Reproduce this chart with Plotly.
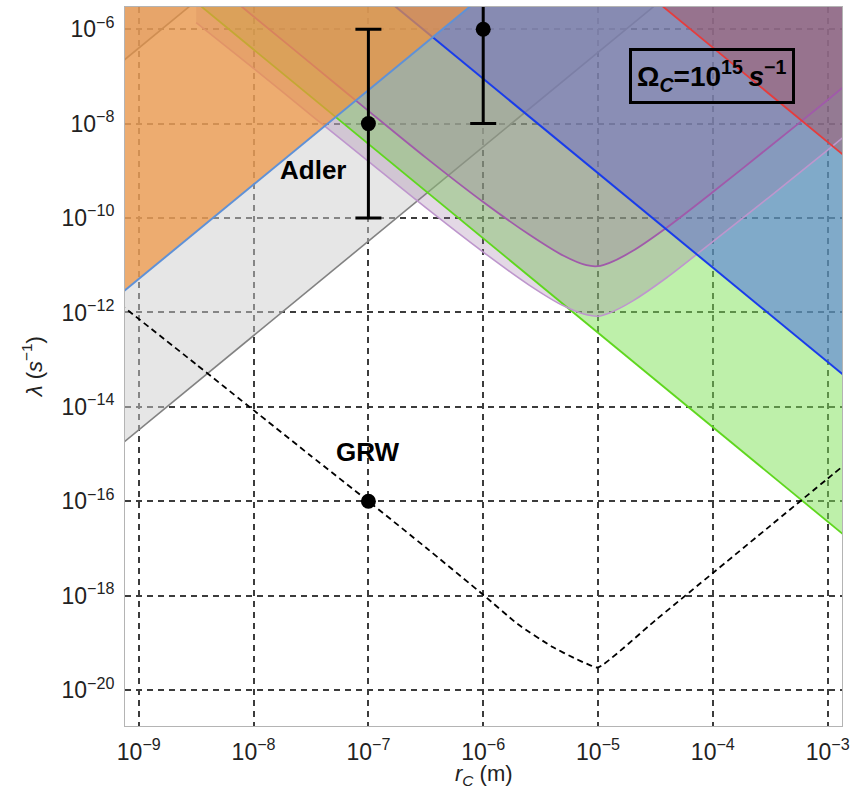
import numpy as np
import plotly.graph_objects as go

# ---- bounds in the (r_C, lambda) plane, stored as log10 values ----
# straight bounds: two end points each
gray_lo_logrc = [-9.5, -4.0]
gray_lo_loglam = [-15.49, -4.49]
gray_hi_logrc = [-9.5, -8.0]
gray_hi_loglam = [-7.40, -4.40]
orange_logrc = [-9.5, -5.5]
orange_loglam = [-12.29, -4.29]
green_logrc = [-9.0, -2.5]
green_loglam = [-4.43, -17.43]
blue_logrc = [-7.5, -2.5]
blue_loglam = [-4.05, -14.05]
red_logrc = [-5.0, -2.5]
red_loglam = [-4.39, -9.39]

# curved bounds
purple_hi_logrc = [-8.4, -8.0, -7.5, -7.0, -6.5, -6.0, -5.6, -5.3, -5.1, -5.0,
                   -4.9, -4.7, -4.4, -4.0, -3.5, -3.0, -2.5]
purple_hi_loglam = [-4.93, -5.73, -6.73, -7.73, -8.72, -9.66, -10.35, -10.80, -11.00, -11.02,
                    -10.95, -10.70, -10.20, -9.45, -8.48, -7.50, -6.50]
purple_lo_logrc = [-8.5, -8.0, -7.5, -7.0, -6.5, -6.0, -5.6, -5.3, -5.1, -5.0,
                   -4.9, -4.7, -4.4, -4.0, -3.5, -3.0, -2.5]
purple_lo_loglam = [-5.86, -6.83, -7.82, -8.80, -9.78, -10.72, -11.42, -11.86, -12.05, -12.08,
                    -12.01, -11.76, -11.26, -10.50, -9.54, -8.56, -7.56]

# GRW lower bound (dashed)
grw_logrc = [-9.3, -8.5, -8.0, -7.5, -7.0, -6.5, -6.0, -5.7, -5.4, -5.2, -5.1, -5.0,
             -4.5, -4.0, -3.5, -3.0, -2.7]
grw_loglam = [-11.56, -13.10, -14.07, -15.04, -16.00, -16.98, -17.98, -18.60, -19.08, -19.33, -19.44, -19.52,
              -18.52, -17.52, -16.52, -15.52, -14.92]

# proposed parameter values
grw_rc = [1e-7]
grw_lam = [1e-16]
adler_rc = [1e-7, 1e-6]
adler_lam = [1e-8, 1e-6]
adler_lo = [1e-10, 1e-8]
adler_hi = [1e-6, 1e-4]

x_ticks = [-9, -8, -7, -6, -5, -4, -3]
y_ticks = [-20, -18, -16, -14, -12, -10, -8, -6]

X_RANGE = [-9.12, -2.875]
Y_RANGE = [-20.76, -5.53]
TOP = 1e-4

fig = go.Figure()


def pts(lrc, llam):
    return list(10.0 ** np.array(lrc)), list(10.0 ** np.array(llam))


def fill(lrc, llam, color):
    x, y = pts(lrc, llam)
    fig.add_trace(go.Scatter(
        x=x + [x[-1], x[0]], y=y + [TOP, TOP], mode="lines", fill="toself",
        fillcolor=color, line=dict(width=0), hoverinfo="skip", showlegend=False))


def edge(lrc, llam, color, width, smooth=False):
    x, y = pts(lrc, llam)
    fig.add_trace(go.Scatter(
        x=x, y=y, mode="lines", hoverinfo="skip", showlegend=False,
        line=dict(color=color, width=width, shape="spline" if smooth else "linear",
                  smoothing=0.8)))


# grey regions
fill(gray_lo_logrc, gray_lo_loglam, "rgba(205,205,205,0.5)")
edge(gray_lo_logrc, gray_lo_loglam, "rgb(130,130,130)", 1.6)
fill(gray_hi_logrc, gray_hi_loglam, "rgba(150,140,150,0.25)")
edge(gray_hi_logrc, gray_hi_loglam, "rgb(130,130,130)", 1.6)

# coloured regions
fill(green_logrc, green_loglam, "rgba(125,225,85,0.5)")
fill(blue_logrc, blue_loglam, "rgba(77,113,225,0.55)")
fill(purple_lo_logrc, purple_lo_loglam, "rgba(150,110,160,0.27)")
fill(purple_hi_logrc, purple_hi_loglam, "rgba(150,110,160,0.27)")
fill(red_logrc, red_loglam, "rgba(170,75,85,0.4)")

edge(green_logrc, green_loglam, "rgb(95,215,30)", 1.8)
edge(purple_lo_logrc, purple_lo_loglam, "rgb(190,150,205)", 1.6, True)
edge(purple_hi_logrc, purple_hi_loglam, "rgb(160,90,170)", 1.8, True)
edge(blue_logrc, blue_loglam, "rgb(25,60,235)", 2.0)
edge(red_logrc, red_loglam, "rgb(230,60,60)", 1.8)

# orange region on top
fill(orange_logrc, orange_loglam, "rgba(240,147,61,0.7)")
edge(orange_logrc, orange_loglam, "rgb(95,145,215)", 2.0)

# GRW curve
fig.add_trace(go.Scatter(
    x=10.0 ** np.array(grw_logrc), y=10.0 ** np.array(grw_loglam), mode="lines",
    line=dict(color="black", width=1.8, dash="6px,4px", shape="spline", smoothing=0.5),
    hoverinfo="skip", showlegend=False))

# proposed values with uncertainties
fig.add_trace(go.Scatter(
    x=adler_rc, y=adler_lam, mode="markers",
    marker=dict(color="black", size=15),
    error_y=dict(type="data", symmetric=False,
                 array=[h - v for h, v in zip(adler_hi, adler_lam)],
                 arrayminus=[v - l for v, l in zip(adler_lam, adler_lo)],
                 color="black", thickness=3, width=13),
    hoverinfo="skip", showlegend=False))
fig.add_trace(go.Scatter(
    x=grw_rc, y=grw_lam, mode="markers", marker=dict(color="black", size=15),
    hoverinfo="skip", showlegend=False))

tick_font = dict(family="Liberation Sans, Arial, sans-serif", size=23, color="#222")
axis_style = dict(
    type="log", tickfont=tick_font, ticks="", ticklabelstandoff=5,
    showgrid=True, gridcolor="rgb(60,60,60)", gridwidth=1.5, griddash="6px,5px",
    showline=True, mirror=True, linecolor="rgb(180,180,180)", linewidth=1,
    zeroline=False)

fig.update_xaxes(
    range=X_RANGE,
    tickvals=[10.0 ** v for v in x_ticks],
    ticktext=[f"10<sup>\u2212{-v}</sup>" for v in x_ticks],
    **axis_style)
fig.update_yaxes(
    range=Y_RANGE,
    tickvals=[10.0 ** v for v in y_ticks],
    ticktext=[f"10<sup>\u2212{-v}</sup>" for v in y_ticks],
    **axis_style)

label_font = dict(family="Liberation Sans, Arial, sans-serif", size=26, color="black")
fig.add_annotation(x=-7.484, y=-8.99, xref="x", yref="y", text="<b>Adler</b>",
                   showarrow=False, font=label_font)
fig.add_annotation(x=-7.0, y=-14.96, xref="x", yref="y", text="<b>GRW</b>",
                   showarrow=False, font=label_font)
fig.add_annotation(x=-4.01, y=-7.0, xref="x", yref="y",
                   text="<b>\u03a9<sub><i>C</i></sub>=10<sup>15</sup>\u2009<i>s</i><sup>\u22121</sup></b>",
                   showarrow=False, bordercolor="black", borderwidth=3, borderpad=5,
                   font=dict(family="Liberation Sans, Arial, sans-serif", size=28, color="black"))

title_font = dict(family="Liberation Sans, Arial, sans-serif", size=22, color="#222")
fig.add_annotation(x=0.5, y=-0.068, xref="paper", yref="paper",
                   text="<i>r<sub>C</sub></i> (m)", showarrow=False, font=title_font,
                   yanchor="middle")
fig.add_annotation(x=-0.13, y=0.5, xref="paper", yref="paper",
                   text="<i>\u03bb</i> (<i>s</i><sup>\u22121</sup>)", showarrow=False, font=title_font,
                   textangle=-90, xanchor="center")

fig.update_layout(
    width=867, height=801,
    margin=dict(l=125, r=25, t=7, b=75),
    plot_bgcolor="white", paper_bgcolor="white",
    showlegend=False,
)

fig.write_html("out.html")
